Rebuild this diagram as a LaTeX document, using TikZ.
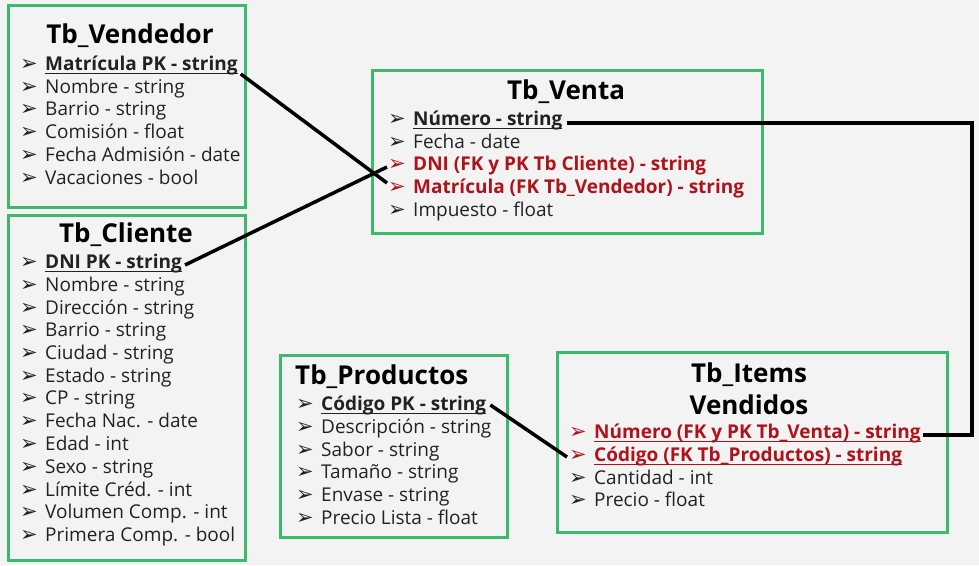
\documentclass[tikz,border=0pt]{standalone}
\usepackage{fontspec}
\setmainfont{Open Sans}
\newfontfamily\djv{DejaVu Sans}
\definecolor{bg}{HTML}{F3F3F3}
\definecolor{boxgreen}{HTML}{3CB96A}
\definecolor{fkred}{HTML}{B0121C}
\definecolor{txt}{HTML}{222222}
\newcommand\bul{\makebox[25pt][l]{\raisebox{0.5pt}{\djv\fontsize{21}{21}\selectfont ➢}}}
\newsavebox\ulbox
\newcommand\ul[1]{\sbox\ulbox{#1}\rlap{\rule[-3.5pt]{\wd\ulbox}{1.3pt}}\usebox\ulbox}
\begin{document}
\begin{tikzpicture}[x=1pt,y=-1pt,
  box/.style={draw=boxgreen,line width=3pt,fill=bg},
  row/.style={anchor=west,inner sep=0pt,text height=13pt,text depth=0pt,text=txt,font=\fontsize{19}{22}\selectfont},
  pk/.style={row,font=\fontsize{19}{22}\selectfont\bfseries},
  fk/.style={row,text=fkred,font=\fontsize{19}{22}\selectfont\bfseries},
  ttl/.style={inner sep=0pt,text=black,font=\fontsize{26}{32}\selectfont\bfseries,align=center},
  link/.style={draw=black,line width=3.5pt}]
\fill[bg] (0,0) rectangle (979,565);
\useasboundingbox (0,0) rectangle (979,565);
% boxes
\path[box] (8,5) rectangle (245,207);
\path[box] (8,215) rectangle (245,560);
\path[box] (372,70) rectangle (762,233);
\path[box] (280,355) rectangle (507,537);
\path[box] (557,352) rectangle (947,532);
% Tb_Vendedor
\node[ttl] (tven) at (130,36) {Tb\_Vendedor};
\node[pk] (ve1) at (20,64) {\bul\ul{Matrícula PK - string}};
\node[row] (ve2) at (20,87) {\bul Nombre - string};
\node[row] (ve3) at (20,109) {\bul Barrio - string};
\node[row] (ve4) at (20,132) {\bul Comisión - float};
\node[row] (ve5) at (20,155) {\bul Fecha Admisión - date};
\node[row] (ve6) at (20,178) {\bul Vacaciones - bool};
% Tb_Cliente
\node[ttl] (tcli) at (126,235) {Tb\_Cliente};
\node[pk] (c1) at (20,262) {\bul\ul{DNI PK - string}};
\node[row] (c2) at (20,285) {\bul Nombre - string};
\node[row] (c3) at (20,308) {\bul Dirección - string};
\node[row] (c4) at (20,330) {\bul Barrio - string};
\node[row] (c5) at (20,353) {\bul Ciudad - string};
\node[row] (c6) at (20,376) {\bul Estado - string};
\node[row] (c7) at (20,398) {\bul CP - string};
\node[row] (c8) at (20,421) {\bul Fecha Nac. - date};
\node[row] (c9) at (20,444) {\bul Edad - int};
\node[row] (c10) at (20,467) {\bul Sexo - string};
\node[row] (c11) at (20,490) {\bul Límite Créd. - int};
\node[row] (c12) at (20,512) {\bul Volumen Comp. - int};
\node[row] (c13) at (20,535) {\bul Primera Comp. - bool};
% Tb_Venta
\node[ttl] (tvta) at (566,92) {Tb\_Venta};
\node[pk] (v1) at (388,119) {\bul\ul{Número - string}};
\node[row] (v2) at (388,142) {\bul Fecha - date};
\node[fk] (v3) at (388,164) {\bul DNI (FK y PK Tb Cliente) - string};
\node[fk] (v4) at (388,187) {\bul Matrícula (FK Tb\_Vendedor) - string};
\node[row] (v5) at (388,210) {\bul Impuesto - float};
% Tb_Productos
\node[ttl,anchor=west] (tpro) at (295,377) {Tb\_Productos};
\node[pk] (p1) at (296,404) {\bul\ul{Código PK - string}};
\node[row] (p2) at (296,427) {\bul Descripción - string};
\node[row] (p3) at (296,450) {\bul Sabor - string};
\node[row] (p4) at (296,472) {\bul Tamaño - string};
\node[row] (p5) at (296,495) {\bul Envase - string};
\node[row] (p6) at (296,518) {\bul Precio Lista - float};
% Tb_Items Vendidos
\node[ttl] (tit) at (749,389) {Tb\_Items\\Vendidos};
\node[fk] (i1) at (569,432) {\bul\ul{Número (FK y PK Tb\_Venta) - string}};
\node[fk] (i2) at (569,455) {\bul\ul{Código (FK Tb\_Productos) - string}};
\node[row] (i3) at (569,478) {\bul Cantidad - int};
\node[row] (i4) at (569,500) {\bul Precio - float};
% connectors
\coordinate (rc) at (972,300);
\draw[link] ([xshift=3pt,yshift=-10pt]ve1.east) -- ([xshift=-1pt,yshift=4pt]v4.west);
\draw[link] ([xshift=3pt,yshift=-3pt]c1.east) -- ([xshift=-1pt,yshift=-3pt]v3.west);
\draw[link] ([xshift=4pt,yshift=-4pt]v1.east) -- ([yshift=-4pt]v1.east -| rc) -- ([yshift=-3pt]rc |- i1.east) -- ([xshift=2pt,yshift=-3pt]i1.east);
\draw[link] ([xshift=4pt,yshift=-1pt]p1.east) -- ([xshift=-2pt,yshift=-2pt]i2.west);
\end{tikzpicture}
\end{document}
